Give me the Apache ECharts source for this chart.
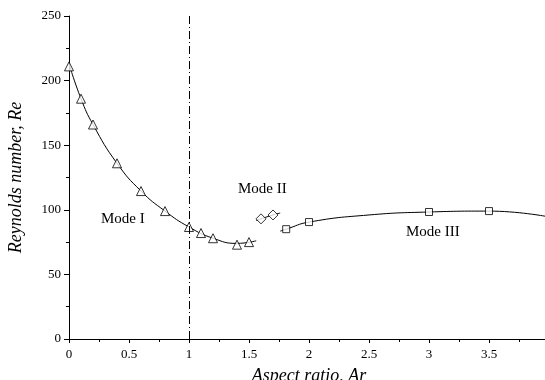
<!DOCTYPE html>
<html><head><meta charset="utf-8">
<script src="https://cdn.jsdelivr.net/npm/echarts@6/dist/echarts.min.js"></script>
<style>html,body{margin:0;padding:0;background:#fff}#c{width:545px;height:380px}</style>
</head><body><div id="c"></div>
<script>
// Mode I (triangles)
const modeI_Ar = [0, 0.1, 0.2, 0.4, 0.6, 0.8, 1.0, 1.1, 1.2, 1.4, 1.5];
const modeI_Re = [211, 186, 166, 136, 114.5, 99, 86.7, 82, 78, 73, 75];
const modeI_curveAr = [0, 0.1, 0.2, 0.4, 0.6, 0.8, 1.0, 1.2, 1.4, 1.56];
const modeI_curveRe = [213, 186, 166, 136, 114.5, 99, 86.7, 78, 74, 76];
// Mode II (diamonds)
const modeII_Ar = [1.6, 1.7];
const modeII_Re = [93, 96];
const modeII_curveAr = [1.56, 1.6, 1.7, 1.76];
const modeII_curveRe = [91.6, 93, 96, 97.5];
// Mode III (squares)
const modeIII_Ar = [1.81, 2.0, 3.0, 3.5];
const modeIII_Re = [85, 90.5, 98.3, 99];
const modeIII_curveAr = [1.76, 1.81, 2.0, 2.5, 3.0, 3.5, 3.97];
const modeIII_curveRe = [83.5, 85, 90.5, 96, 98.3, 99, 95];
// Axis ticks
const xTicks = [0, 0.5, 1, 1.5, 2, 2.5, 3, 3.5];
const yTicks = [0, 50, 100, 150, 200, 250];

const zip = (a, b) => a.map((v, i) => [v, b[i]]);
const font = 'Liberation Serif';
const chart = echarts.init(document.getElementById('c'));
const curve = (a, b) => ({type: 'line', data: zip(a, b), smooth: 0.5, showSymbol: false, symbol: 'none',
  lineStyle: {color: '#000', width: 1}, z: 2, silent: true});
const marks = (a, b, sym, size) => ({type: 'scatter', data: zip(a, b), symbol: sym, symbolSize: size,
  itemStyle: {color: '#fff', borderColor: '#000', borderWidth: 1}, z: 3, silent: true});
chart.setOption({
  animation: false,
  grid: {left: 69, top: 16, right: -4, bottom: 41, containLabel: false, outerBoundsMode: 'none'},
  xAxis: {type: 'value', min: 0, max: 4, interval: 0.5,
    name: 'Aspect ratio, Ar', nameLocation: 'middle', nameGap: 28,
    nameTextStyle: {fontFamily: font, fontStyle: 'italic', fontSize: 18, color: '#000'},
    axisLine: {lineStyle: {color: '#000', width: 1}},
    axisTick: {inside: false, length: 4, lineStyle: {color: '#000'}},
    minorTick: {show: true, splitNumber: 2, length: 3, lineStyle: {color: '#000'}},
    splitLine: {show: false},
    axisLabel: {fontFamily: font, fontSize: 13, color: '#000', margin: 9,
      formatter: v => xTicks.includes(v) ? String(v) : ''}},
  yAxis: {type: 'value', min: 0, max: 250, interval: 50,
    name: 'Reynolds number, Re', nameLocation: 'middle', nameGap: 44,
    nameTextStyle: {fontFamily: font, fontStyle: 'italic', fontSize: 18, color: '#000'},
    axisLine: {show: true, lineStyle: {color: '#000', width: 1}},
    axisTick: {show: true, inside: false, length: 5, lineStyle: {color: '#000'}},
    minorTick: {show: true, splitNumber: 2, length: 3, lineStyle: {color: '#000'}},
    splitLine: {show: false},
    axisLabel: {fontFamily: font, fontSize: 13, color: '#000', margin: 8,
      formatter: v => yTicks.includes(v) ? String(v) : ''}},
  series: [
    Object.assign(curve(modeI_curveAr, modeI_curveRe), {
      markLine: {silent: true, symbol: 'none', label: {show: false},
        lineStyle: {color: '#000', width: 1, type: [8, 3, 1, 3]},
        data: [{xAxis: 1}]}}),
    curve(modeII_curveAr, modeII_curveRe),
    curve(modeIII_curveAr, modeIII_curveRe),
    marks(modeI_Ar, modeI_Re, 'triangle', 9),
    marks(modeII_Ar, modeII_Re, 'diamond', 10),
    marks(modeIII_Ar, modeIII_Re, 'rect', 7)
  ],
  graphic: [
    {type: 'text', left: 101, top: 212, style: {text: 'Mode I', font: '15px "Liberation Serif"', fill: '#000'}},
    {type: 'text', left: 238, top: 182, style: {text: 'Mode II', font: '15px "Liberation Serif"', fill: '#000'}},
    {type: 'text', left: 406, top: 225, style: {text: 'Mode III', font: '15px "Liberation Serif"', fill: '#000'}}
  ]
});
</script></body></html>
